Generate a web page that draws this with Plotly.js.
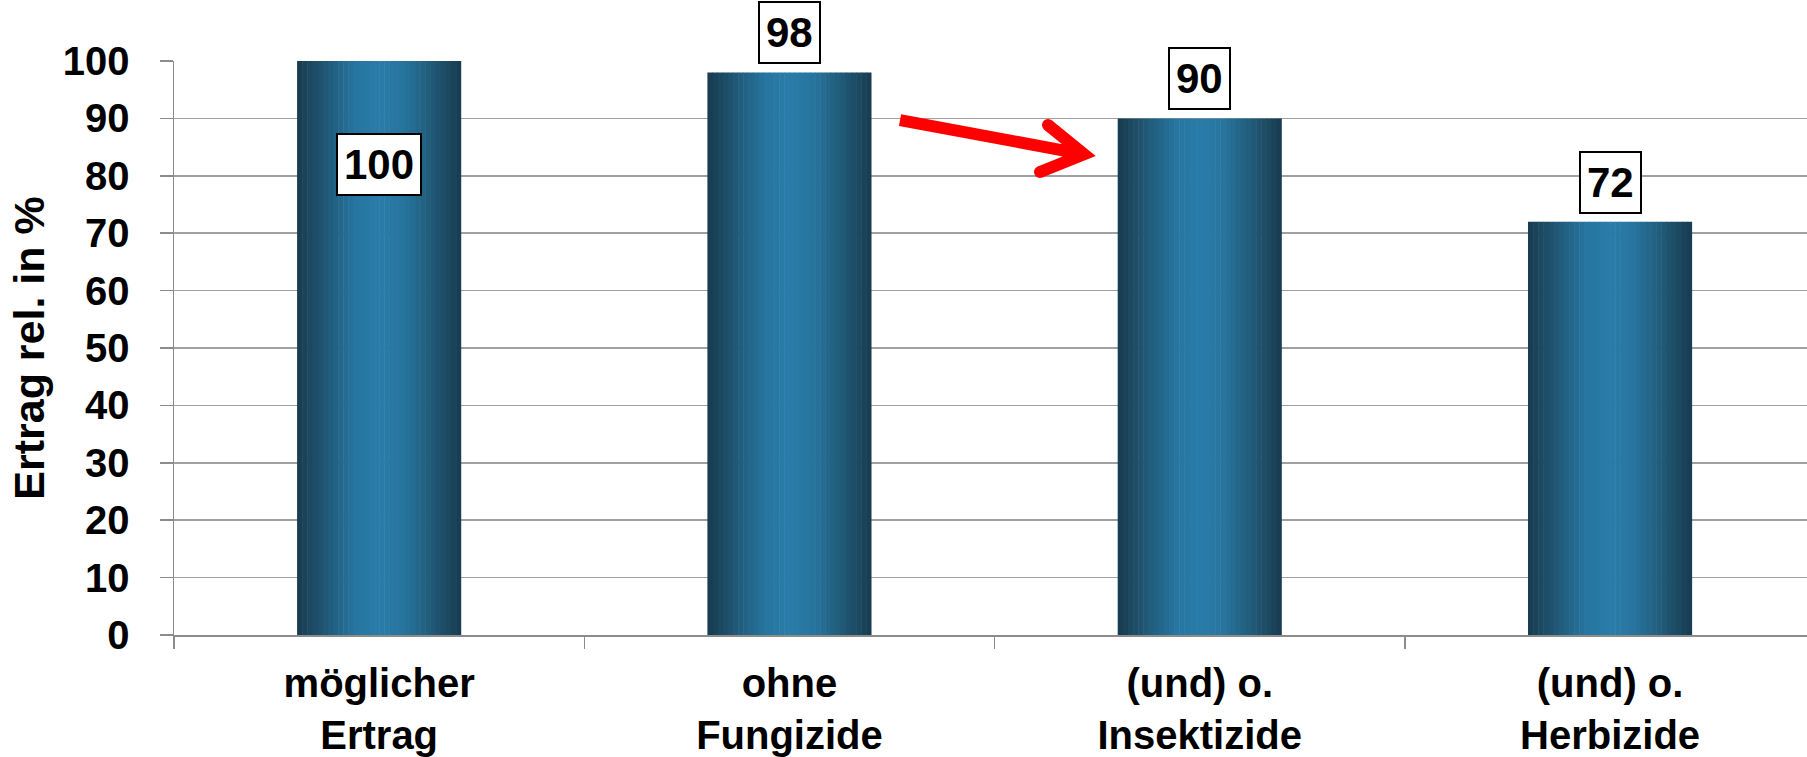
<!DOCTYPE html>
<html>
<head>
<meta charset="utf-8">
<script src="https://cdn.plot.ly/plotly-3.0.1.min.js"></script>
<style>
  html, body { margin: 0; padding: 0; background: #ffffff; }
  #chart { width: 1807px; height: 757px; }
</style>
</head>
<body>
<div id="chart"></div>
<script>
// Relative yield depending on which crop protection is left out
const categories = ["möglicher<br>Ertrag", "ohne<br>Fungizide", "(und) o.<br>Insektizide", "(und) o.<br>Herbizide"];
const yieldValues = [100, 98, 90, 72];
const valueLabels = ["100", "98", "90", "72"];
const yTickValues = [0, 10, 20, 30, 40, 50, 60, 70, 80, 90, 100];

const FONT = "Liberation Sans, Arial, Helvetica, sans-serif";
const BAR_WIDTH = 0.4;
const STRIPS = 32;

// horizontal shading of each bar: dark edges, light middle
const shadeStops = [
  [0.00, [24, 58, 78]],
  [0.15, [31, 84, 112]],
  [0.35, [39, 117, 160]],
  [0.50, [42, 124, 168]],
  [0.65, [39, 116, 158]],
  [0.85, [31, 84, 112]],
  [1.00, [24, 58, 78]]
];
function shadeAt(t) {
  for (let k = 1; k < shadeStops.length; k++) {
    const [t1, c1] = shadeStops[k];
    const [t0, c0] = shadeStops[k - 1];
    if (t <= t1) {
      const f = (t - t0) / (t1 - t0);
      const c = c0.map((v, j) => Math.round(v + (c1[j] - v) * f));
      return `rgb(${c[0]},${c[1]},${c[2]})`;
    }
  }
  return "rgb(24,58,78)";
}

// each bar is drawn as narrow vertical strips of the same height
const traces = [];
const stripW = BAR_WIDTH / STRIPS;
for (let i = 0; i < STRIPS; i++) {
  traces.push({
    type: "bar",
    x: categories,
    y: yieldValues,
    offset: -BAR_WIDTH / 2 + i * stripW,
    width: i === STRIPS - 1 ? stripW : stripW * 1.1,
    marker: { color: shadeAt((i + 0.5) / STRIPS), line: { width: 0 } },
    hoverinfo: "skip",
    showlegend: false
  });
}

// boxed value labels; the first one sits inside its bar
const annotations = categories.map((c, i) => ({
  x: c,
  y: yieldValues[i],
  xref: "x",
  yref: "y",
  text: valueLabels[i],
  showarrow: false,
  yanchor: i === 0 ? "top" : "bottom",
  yshift: i === 0 ? -72 : 8,
  font: { family: FONT, size: 42, color: "#000000", weight: "bold" },
  bgcolor: "#ffffff",
  bordercolor: "#000000",
  borderwidth: 2,
  borderpad: 6
}));

// round ends for the arrow's barbs
function capDot(px, py) {
  return {
    type: "circle",
    xref: "paper", yref: "paper",
    xsizemode: "pixel", ysizemode: "pixel",
    xanchor: px, yanchor: py,
    x0: -6, x1: 6, y0: -6, y1: 6,
    fillcolor: "#ff0000",
    line: { width: 0 },
    layer: "above"
  };
}

const layout = {
  width: 1807,
  height: 757,
  margin: { l: 174, r: 0, t: 61, b: 122 },
  paper_bgcolor: "#ffffff",
  plot_bgcolor: "#ffffff",
  barmode: "overlay",
  showlegend: false,
  hovermode: false,
  font: { family: FONT, color: "#000000" },
  xaxis: {
    type: "category",
    range: [-0.5, 3.48],
    tickson: "boundaries",
    ticks: "outside",
    ticklen: 12,
    tickwidth: 1.5,
    tickcolor: "#8c8c8c",
    showline: true,
    linecolor: "#8c8c8c",
    linewidth: 1.5,
    showgrid: false,
    ticklabelstandoff: 12,
    tickfont: { family: FONT, size: 40, color: "#000000", weight: "bold" }
  },
  yaxis: {
    range: [0, 100],
    tickvals: yTickValues,
    ticks: "outside",
    ticklen: 13,
    tickwidth: 1.5,
    tickcolor: "#8c8c8c",
    showline: true,
    linecolor: "#8c8c8c",
    linewidth: 1.5,
    showgrid: true,
    gridcolor: "#a0a0a0",
    gridwidth: 1.5,
    zeroline: false,
    ticklabelstandoff: 22,
    tickfont: { family: FONT, size: 40, color: "#000000", weight: "bold" },
    title: {
      text: "Ertrag rel. in %",
      standoff: 4,
      font: { family: FONT, size: 43, color: "#000000", weight: "bold" }
    }
  },
  annotations: annotations,
  shapes: [
    {
      // red arrow from the second bar towards the third
      type: "path",
      xref: "paper",
      yref: "paper",
      path: "M0.4446,0.897 L0.5573,0.8375 M0.5352,0.8885 L0.5573,0.8375 L0.5303,0.8066",
      line: { color: "#ff0000", width: 12 },
      layer: "above"
    },
    capDot(0.5352, 0.8885),
    capDot(0.5303, 0.8066)
  ]
};

Plotly.newPlot("chart", traces, layout, { staticPlot: true, displayModeBar: false });
</script>
</body>
</html>
